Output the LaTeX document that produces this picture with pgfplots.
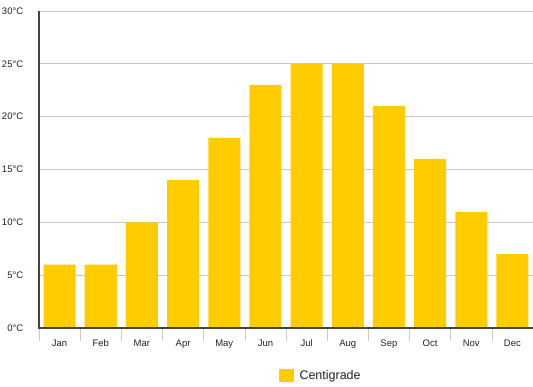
\documentclass[border=0pt]{standalone}
\usepackage{pgfplots}
\pgfplotsset{compat=1.18}
\usepackage{fontspec}
\setmainfont{Liberation Sans}
\definecolor{barc}{HTML}{FFCC00}
\definecolor{axc}{HTML}{444444}
\definecolor{gridc}{HTML}{C8C8C8}
\definecolor{txtc}{HTML}{222222}
\begin{document}
\begin{tikzpicture}[x=1pt,y=1pt]
\useasboundingbox (0,0) rectangle (533,387);
\begin{axis}[
  at={(39pt,59pt)}, anchor=south west,
  scale only axis, width=494pt, height=317pt,
  xmin=-0.5, xmax=11.5, ymin=0, ymax=30,
  axis line style={draw=none},
  ytick={0,5,10,15,20,25,30},
  yticklabels={0°C,5°C,10°C,15°C,20°C,25°C,30°C},
  yticklabel style={font=\fontsize{9.5}{11}\selectfont, color=txtc, xshift=-8pt},
  ymajorgrids, grid style={gridc, line width=0.8pt},
  major y tick style={draw=none},
  xtick={0,...,11},
  xticklabels={Jan,Feb,Mar,Apr,May,Jun,Jul,Aug,Sep,Oct,Nov,Dec},
  xticklabel style={font=\fontsize{9.5}{11}\selectfont, color=txtc, yshift=-4pt},
  major x tick style={draw=none},
  minor xtick={-0.5,0.5,...,11.5},
  minor x tick style={draw=gridc, line width=0.6pt},
  minor tick length=13pt,
  xtick pos=bottom, tick align=outside,
  legend style={at={(axis description cs:0.571,-0.151)}, anchor=center, draw=none, fill=none, font=\fontsize{12.5}{14}\selectfont, text=txtc},
  legend image code/.code={\fill[barc] (0pt,-6pt) rectangle (15pt,7pt);},
  legend cell align=left,
  legend style={/tikz/every even column/.append style={column sep=0pt}},
  clip=false,
]
\addplot[ybar, bar width=32pt, fill=barc, draw=none] coordinates {
 (0,6) (1,6) (2,10) (3,14) (4,18) (5,23) (6,25) (7,25) (8,21) (9,16) (10,11) (11,7)};
\addlegendentry{\hspace{3pt}Centigrade}
\draw[axc, line width=1.8pt] (axis cs:-0.5,30) -- (axis cs:-0.5,0) -- (axis cs:11.5,0);
\end{axis}
\end{tikzpicture}
\end{document}
